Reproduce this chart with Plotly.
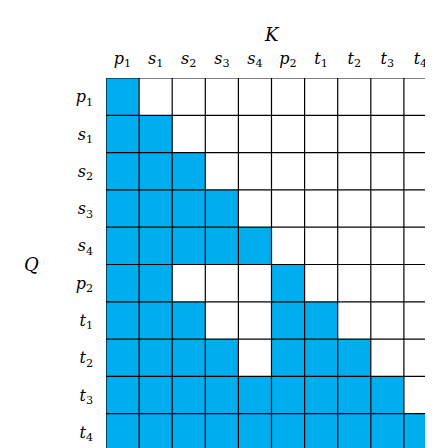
import plotly.graph_objects as go

labels = ["p<sub>1</sub>", "s<sub>1</sub>", "s<sub>2</sub>", "s<sub>3</sub>", "s<sub>4</sub>",
          "p<sub>2</sub>", "t<sub>1</sub>", "t<sub>2</sub>", "t<sub>3</sub>", "t<sub>4</sub>"]
mask = [
    [1, 0, 0, 0, 0, 0, 0, 0, 0, 0],
    [1, 1, 0, 0, 0, 0, 0, 0, 0, 0],
    [1, 1, 1, 0, 0, 0, 0, 0, 0, 0],
    [1, 1, 1, 1, 0, 0, 0, 0, 0, 0],
    [1, 1, 1, 1, 1, 0, 0, 0, 0, 0],
    [1, 1, 0, 0, 0, 1, 0, 0, 0, 0],
    [1, 1, 1, 0, 0, 1, 1, 0, 0, 0],
    [1, 1, 1, 1, 0, 1, 1, 1, 0, 0],
    [1, 1, 1, 1, 1, 1, 1, 1, 1, 0],
    [1, 1, 1, 1, 1, 1, 1, 1, 1, 1],
]
n = len(labels)
ital = ["<i>" + l.replace("<sub>", "</i><sub>") for l in labels]

fig = go.Figure(go.Heatmap(
    z=mask, x=list(range(n)), y=list(range(n)),
    colorscale=[[0, "white"], [1, "#00aeef"]], zmin=0, zmax=1,
    showscale=False, hoverinfo="skip"))

line = dict(color="black", width=1.2)
for i in range(n + 1):
    fig.add_shape(type="line", x0=i - 0.5, x1=i - 0.5, y0=-0.5, y1=n - 0.5, line=line)
    fig.add_shape(type="line", y0=i - 0.5, y1=i - 0.5, x0=-0.5, x1=n - 0.5, line=line)

font = dict(family="DejaVu Serif", size=16, color="black")
fig.update_layout(
    width=433, height=448, margin=dict(l=98, r=4, t=70, b=5),
    plot_bgcolor="white", paper_bgcolor="white", font=font,
    xaxis=dict(side="top", tickvals=list(range(n)), ticktext=ital, range=[-0.5, n - 0.5],
               showgrid=False, zeroline=False, ticks="", ticklabelstandoff=10,
               automargin=False, fixedrange=True),
    yaxis=dict(tickvals=list(range(n)), ticktext=ital, range=[n - 0.5, -0.5],
               showgrid=False, zeroline=False, ticks="", ticklabelstandoff=12,
               automargin=False, fixedrange=True),
    annotations=[
        dict(text="<i>K</i>", x=0.5, y=1, xref="paper", yref="paper", yshift=56,
             showarrow=False, font=dict(family="DejaVu Serif", size=18)),
        dict(text="<i>Q</i>", x=0, y=0.5, xref="paper", yref="paper", xshift=-84,
             showarrow=False, font=dict(family="DejaVu Serif", size=18)),
    ],
)
fig.write_html("out.html")
